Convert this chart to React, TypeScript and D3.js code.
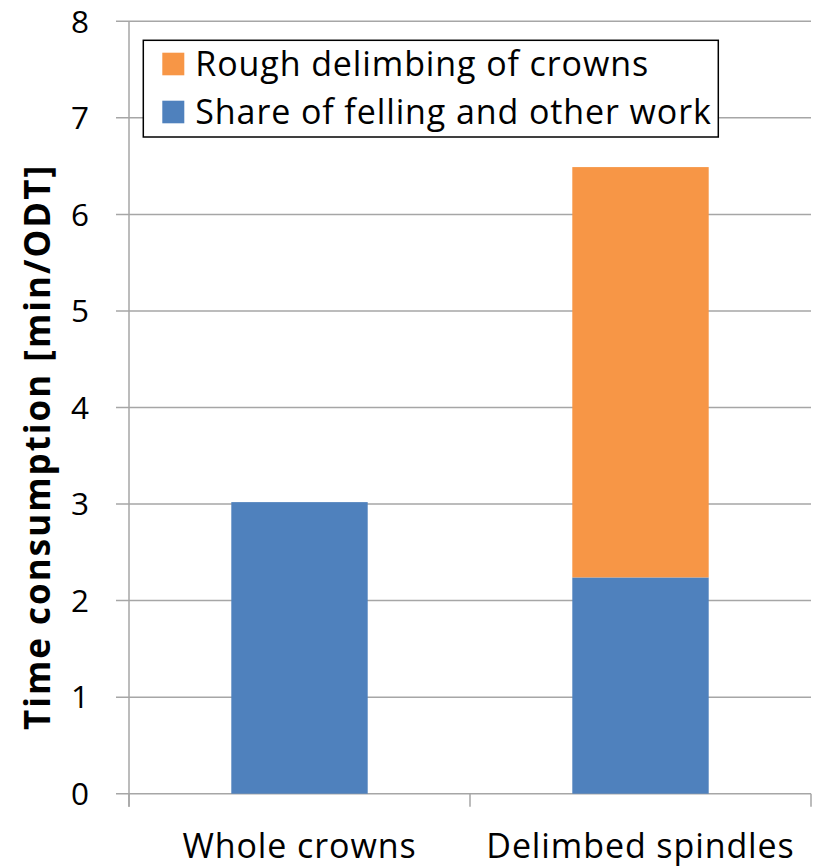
import React from "react";
import * as d3 from "d3";

// Categories and stacked series values (min/ODT)
const categories = ["Whole crowns", "Delimbed spindles"];
const fellingShare = [3.02, 2.24];
const roughDelimbing = [0, 4.25];
const yTicks = [0, 1, 2, 3, 4, 5, 6, 7, 8];

const seriesNames = ["Share of felling and other work", "Rough delimbing of crowns"];
const seriesColors = ["#4f81bd", "#f79646"];

const W = 819;
const H = 868;
const margin = { left: 129, right: 8, top: 21.3, bottom: 74.3 };
const FONT = "'Open Sans', 'Noto Sans', sans-serif";

export default function App() {
  const x = d3
    .scaleBand<string>()
    .domain(categories)
    .range([margin.left, W - margin.right])
    .paddingInner(0.6)
    .paddingOuter(0.3);

  const y = d3
    .scaleLinear()
    .domain([0, 8])
    .range([H - margin.bottom, margin.top]);

  const rows = categories.map((c, i) => ({
    category: c,
    felling: fellingShare[i],
    rough: roughDelimbing[i],
  }));
  const stacked = d3.stack<any>().keys(["felling", "rough"])(rows);

  const x0 = margin.left;
  const x1 = W - margin.right;
  const y0 = y(0);
  const step = (x1 - x0) / categories.length;
  const gridColor = "#a6a6a6";

  return (
    <svg width={W} height={H} style={{ display: "block", position: "absolute", left: 0, top: 0 }}>
      <rect width={W} height={H} fill="#ffffff" />
      {/* horizontal gridlines and y ticks */}
      {yTicks.map((t) => (
        <g key={t}>
          <line x1={x0 - 13} x2={x1} y1={y(t)} y2={y(t)} stroke={gridColor} strokeWidth={1.5} />
          <text
            x={89}
            y={y(t)}
            dy="0.36em"
            textAnchor="end"
            fontFamily={FONT}
            fontSize={31.5}
            fill="#000"
          >
            {t}
          </text>
        </g>
      ))}
      {/* y axis line */}
      <line x1={x0} x2={x0} y1={y(8)} y2={y0 + 13} stroke={gridColor} strokeWidth={1.5} />
      {/* category separators */}
      {d3.range(categories.length + 1).map((i) => (
        <line
          key={i}
          x1={x0 + step * i}
          x2={x0 + step * i}
          y1={y0}
          y2={y0 + 13}
          stroke={gridColor}
          strokeWidth={1.5}
        />
      ))}
      {/* stacked bars */}
      {stacked.map((s, si) => (
        <g key={si} fill={seriesColors[si]}>
          {s.map((d: any, i: number) =>
            d[1] - d[0] > 0 ? (
              <rect
                key={i}
                x={x(categories[i])!}
                width={x.bandwidth()}
                y={y(d[1])}
                height={y(d[0]) - y(d[1])}
              />
            ) : null
          )}
        </g>
      ))}
      {/* category labels */}
      {categories.map((c) => (
        <text
          key={c}
          x={x(c)! + x.bandwidth() / 2}
          y={858}
          textAnchor="middle"
          fontFamily={FONT}
          fontSize={34}
          letterSpacing={0.9}
          fill="#000"
        >
          {c}
        </text>
      ))}
      {/* y axis title */}
      <text
        transform={`translate(50, 447) rotate(-90)`}
        textAnchor="middle"
        fontFamily={FONT}
        fontWeight="bold"
        fontSize={35}
        letterSpacing={2}
        fill="#000"
      >
        Time consumption [min/ODT]
      </text>
      {/* legend */}
      <g>
        <rect x={143.3} y={40.3} width={575} height={96.7} fill="#fff" stroke="#000" strokeWidth={1.5} />
        {[1, 0].map((si, row) => (
          <g key={si} transform={`translate(162.3, ${52.7 + row * 48})`}>
            <rect width={22} height={22.6} fill={seriesColors[si]} />
            <text
              x={33}
              y={11.3}
              dy="0.35em"
              fontFamily={FONT}
              fontSize={34}
              letterSpacing={0.9}
              fill="#000"
            >
              {seriesNames[si]}
            </text>
          </g>
        ))}
      </g>
    </svg>
  );
}
